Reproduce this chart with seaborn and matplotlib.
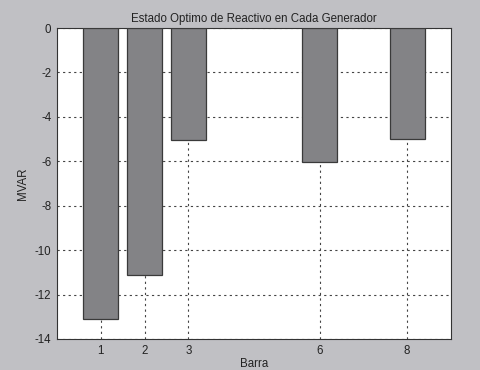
import matplotlib
matplotlib.use("Agg")
import matplotlib.pyplot as plt
import seaborn as sns
import pandas as pd

barras = [1, 2, 3, 6, 8]
mvar = [-13.1, -11.1, -5.05, -6.05, -5.0]
yticks = [0, -2, -4, -6, -8, -10, -12, -14]

sns.set_theme(style="white")
plt.rcParams["font.family"] = ["Liberation Sans", "DejaVu Sans"]

fig = plt.figure(figsize=(4.81, 3.70), dpi=100, facecolor="#c0c0c4")
ax = fig.add_axes([0.1185, 0.0838, 0.819, 0.8405])
ax.set_facecolor("white")

df = pd.DataFrame({"Barra": barras, "MVAR": mvar})
sns.barplot(data=df, x="Barra", y="MVAR", native_scale=True, width=0.8,
            color="#838386", saturation=1, edgecolor="#3a3a3a", linewidth=0.9,
            ax=ax, zorder=3)

ax.set_xlim(0, 9)
ax.set_ylim(-14, 0)
ax.set_xticks(barras)
ax.set_xticklabels([str(b) for b in barras])
ax.set_yticks(yticks)
ax.set_yticklabels([str(t) for t in yticks])
ax.grid(True, color="#444444", linestyle=(0, (2, 3)), linewidth=0.8, zorder=0)
ax.set_axisbelow(True)
ax.tick_params(direction="in", length=3, labelsize=8.3, colors="#222222", pad=4)
for s in ax.spines.values():
    s.set_color("#333333")
    s.set_linewidth(0.8)

ax.set_title("Estado Optimo de Reactivo en Cada Generador", fontsize=8.3, color="#222222", pad=4)
ax.set_xlabel("Barra", fontsize=8.3, color="#222222", labelpad=1)
ax.set_ylabel("MVAR", fontsize=8.3, color="#222222", labelpad=4)

fig.savefig("out.png", dpi=100, facecolor=fig.get_facecolor())
